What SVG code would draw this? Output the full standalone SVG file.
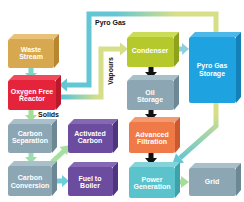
<svg xmlns="http://www.w3.org/2000/svg" width="244" height="202" viewBox="0 0 244 202">
<defs>
<linearGradient id="gPyro" gradientUnits="userSpaceOnUse" x1="115" y1="0" x2="175" y2="0"><stop offset="0" stop-color="#62c6d4"/><stop offset="1" stop-color="#d6df88"/></linearGradient>
<linearGradient id="gVap" gradientUnits="userSpaceOnUse" x1="65" y1="0" x2="98" y2="0"><stop offset="0" stop-color="#62c6d4"/><stop offset="1" stop-color="#d6df88"/></linearGradient>
<linearGradient id="gPow" gradientUnits="userSpaceOnUse" x1="0" y1="115" x2="0" y2="160"><stop offset="0" stop-color="#d6df88"/><stop offset="1" stop-color="#62c6d4"/></linearGradient>
<style>
.t{font-family:"Liberation Sans",Arial,sans-serif;font-weight:bold;font-size:7px;fill:#fff;text-anchor:middle}
.l{font-family:"Liberation Sans",Arial,sans-serif;font-weight:bold;font-size:7px;fill:#111}
.pipe{fill:none;stroke-width:5;stroke-linejoin:miter}
.tan .f{fill:#d8a850}.tan .u{fill:#e8c278}.tan .s{fill:#b8862e}
.red .f{fill:#e5243b}.red .u{fill:#f04a5c}.red .s{fill:#b81a2c}
.sl .f{fill:#8ca7b3}.sl .u{fill:#a9c0ca}.sl .s{fill:#6c8894}
.pu .f{fill:#6b4c9f}.pu .u{fill:#8468b4}.pu .s{fill:#4e3580}
.li .f{fill:#b5c92d}.li .u{fill:#cbdc58}.li .s{fill:#8fa21c}
.bl .f{fill:#1ea2e0}.bl .u{fill:#4cb8ea}.bl .s{fill:#1380b8}
.or .f{fill:#ef7a48}.or .u{fill:#f59a70}.or .s{fill:#cc5a2e}
.te .f{fill:#5ac3cc}.te .u{fill:#82d4da}.te .s{fill:#3ea2ac}
</style>
</defs>
<g id="connectors">
<path class="pipe" stroke="url(#gPyro)" d="M216,34 V14 H89 V85 H66"/>
<polygon points="67,78.5 67,91.5 59,85" fill="#62c6d4"/>
<path class="pipe" stroke="url(#gVap)" d="M58,97 H101 V49 H121"/>
<polygon points="120,42.5 120,55.5 128,49" fill="#d6df88"/>
<path class="pipe" stroke="url(#gPow)" d="M216,100 V126 L180,158"/>
<polygon points="172,165 184,162.5 176,153.5" fill="#62c6d4"/>
<rect x="28.5" y="67" width="5" height="7" fill="#7fd4c4"/>
<polygon points="25,73 37,73 31,79" fill="#7fd4c4"/>
<rect x="28.5" y="109" width="5" height="7" fill="#a6dc9a"/>
<polygon points="25,115 37,115 31,121.5" fill="#a6dc9a"/>
<rect x="28.5" y="152" width="5" height="6" fill="#9edcb0"/>
<polygon points="25,157 37,157 31,163.5" fill="#9edcb0"/>
<line x1="52" y1="162" x2="64" y2="151" stroke="#a6e0a0" stroke-width="5"/>
<polygon points="70,145 67,155.1 59.6,146.9" fill="#a6e0a0"/>
<rect x="55" y="178.5" width="8" height="5" fill="#6ccfd8"/>
<polygon points="62,175 62,187 69,181" fill="#6ccfd8"/>
<rect x="176" y="46.5" width="7" height="5" fill="#8fd0dc"/>
<polygon points="182,43 182,55 189,49" fill="#8fd0dc"/>
<rect x="174" y="179.5" width="8" height="5" fill="#a6dc9a"/>
<polygon points="181,176 181,188 189,182" fill="#a6dc9a"/>
<rect x="148.5" y="66" width="5" height="7" fill="#111"/>
<polygon points="145,72 157,72 151,78.5" fill="#111"/>
<rect x="148.5" y="109" width="5" height="6" fill="#111"/>
<polygon points="145,114 157,114 151,120.5" fill="#111"/>
<rect x="148.5" y="152" width="5" height="7" fill="#111"/>
<polygon points="145,158 157,158 151,165" fill="#111"/>
</g>
<g id="waste" class="tan">
<polygon class="u" points="9,39 14,34 59,34 54,39"/><polygon class="s" points="54,39 59,34 59,62 54,68"/><rect class="f" x="8" y="39" width="46" height="29" rx="2"/>
<text class="t" x="31" y="51.5">Waste</text><text class="t" x="31" y="58.5">Stream</text>
</g>
<g id="reactor" class="red">
<polygon class="u" points="9,80 14,75 61,75 56,80"/><polygon class="s" points="56,80 61,75 61,104 56,110"/><rect class="f" x="8" y="80" width="48" height="30" rx="2"/>
<text class="t" x="32" y="93.5">Oxygen Free</text><text class="t" x="32" y="100.5">Reactor</text>
</g>
<g id="carbon-separation" class="sl">
<polygon class="u" points="9,124 14,119 57,119 52,124"/><polygon class="s" points="52,124 57,119 57,147 52,153"/><rect class="f" x="8" y="124" width="44" height="29" rx="2"/>
<text class="t" x="30" y="135.5">Carbon</text><text class="t" x="30" y="142.5">Separation</text>
</g>
<g id="carbon-conversion" class="sl">
<polygon class="u" points="9,166 14,161 57,161 52,166"/><polygon class="s" points="52,166 57,161 57,190 52,196"/><rect class="f" x="8" y="166" width="44" height="30" rx="2"/>
<text class="t" x="30" y="180">Carbon</text><text class="t" x="30" y="187.5">Conversion</text>
</g>
<g id="activated-carbon" class="pu">
<polygon class="u" points="69,124 74,119 118,119 113,124"/><polygon class="s" points="113,124 118,119 118,147 113,153"/><rect class="f" x="68" y="124" width="45" height="29" rx="2"/>
<text class="t" x="90" y="135.5">Activated</text><text class="t" x="90" y="142.5">Carbon</text>
</g>
<g id="fuel-to-boiler" class="pu">
<polygon class="u" points="69,167 74,162 118,162 113,167"/><polygon class="s" points="113,167 118,162 118,190 113,196"/><rect class="f" x="68" y="167" width="45" height="29" rx="2"/>
<text class="t" x="90" y="180.5">Fuel to</text><text class="t" x="90" y="187.5">Boiler</text>
</g>
<g id="condenser" class="li">
<polygon class="u" points="128,37 133,32 179,32 174,37"/><polygon class="s" points="174,37 179,32 179,61 174,67"/><rect class="f" x="127" y="37" width="47" height="30" rx="2"/>
<text class="t" x="150" y="52.5">Condenser</text>
</g>
<g id="oil-storage" class="sl">
<polygon class="u" points="128,80 133,75 179,75 174,80"/><polygon class="s" points="174,80 179,75 179,104 174,110"/><rect class="f" x="127" y="80" width="47" height="30" rx="2"/>
<text class="t" x="150" y="94.5">Oil</text><text class="t" x="150" y="101.5">Storage</text>
</g>
<g id="advanced-filtration" class="or">
<polygon class="u" points="130,122 135,117 180,117 175,122"/><polygon class="s" points="175,122 180,117 180,147 175,153"/><rect class="f" x="129" y="122" width="46" height="31" rx="2"/>
<text class="t" x="152" y="136.5">Advanced</text><text class="t" x="152" y="143.5">Filtration</text>
</g>
<g id="power-generation" class="te">
<polygon class="u" points="130,167 135,162 180,162 175,167"/><polygon class="s" points="175,167 180,162 180,192 175,198"/><rect class="f" x="129" y="167" width="46" height="31" rx="2"/>
<text class="t" x="152" y="181.5">Power</text><text class="t" x="152" y="188.5">Generation</text>
</g>
<g id="pyro-gas-storage" class="bl">
<polygon class="u" points="190,37 195,32 241,32 236,37"/><polygon class="s" points="236,37 241,32 241,97 236,103"/><rect class="f" x="189" y="37" width="47" height="66" rx="2"/>
<text class="t" x="212" y="67.5">Pyro Gas</text><text class="t" x="212" y="75.5">Storage</text>
</g>
<g id="grid" class="sl">
<polygon class="u" points="190,168 195,163 241,163 236,168"/><polygon class="s" points="236,168 241,163 241,190 236,196"/><rect class="f" x="189" y="168" width="47" height="28" rx="2"/>
<text class="t" x="212" y="184">Grid</text>
</g>
<g id="labels">
<text class="l" x="95" y="24.5">Pyro Gas</text>
<text class="l" x="38" y="117">Solids</text>
<text class="l" text-anchor="middle" transform="translate(112.5,71) rotate(-90)">Vapours</text>
</g>
</svg>
